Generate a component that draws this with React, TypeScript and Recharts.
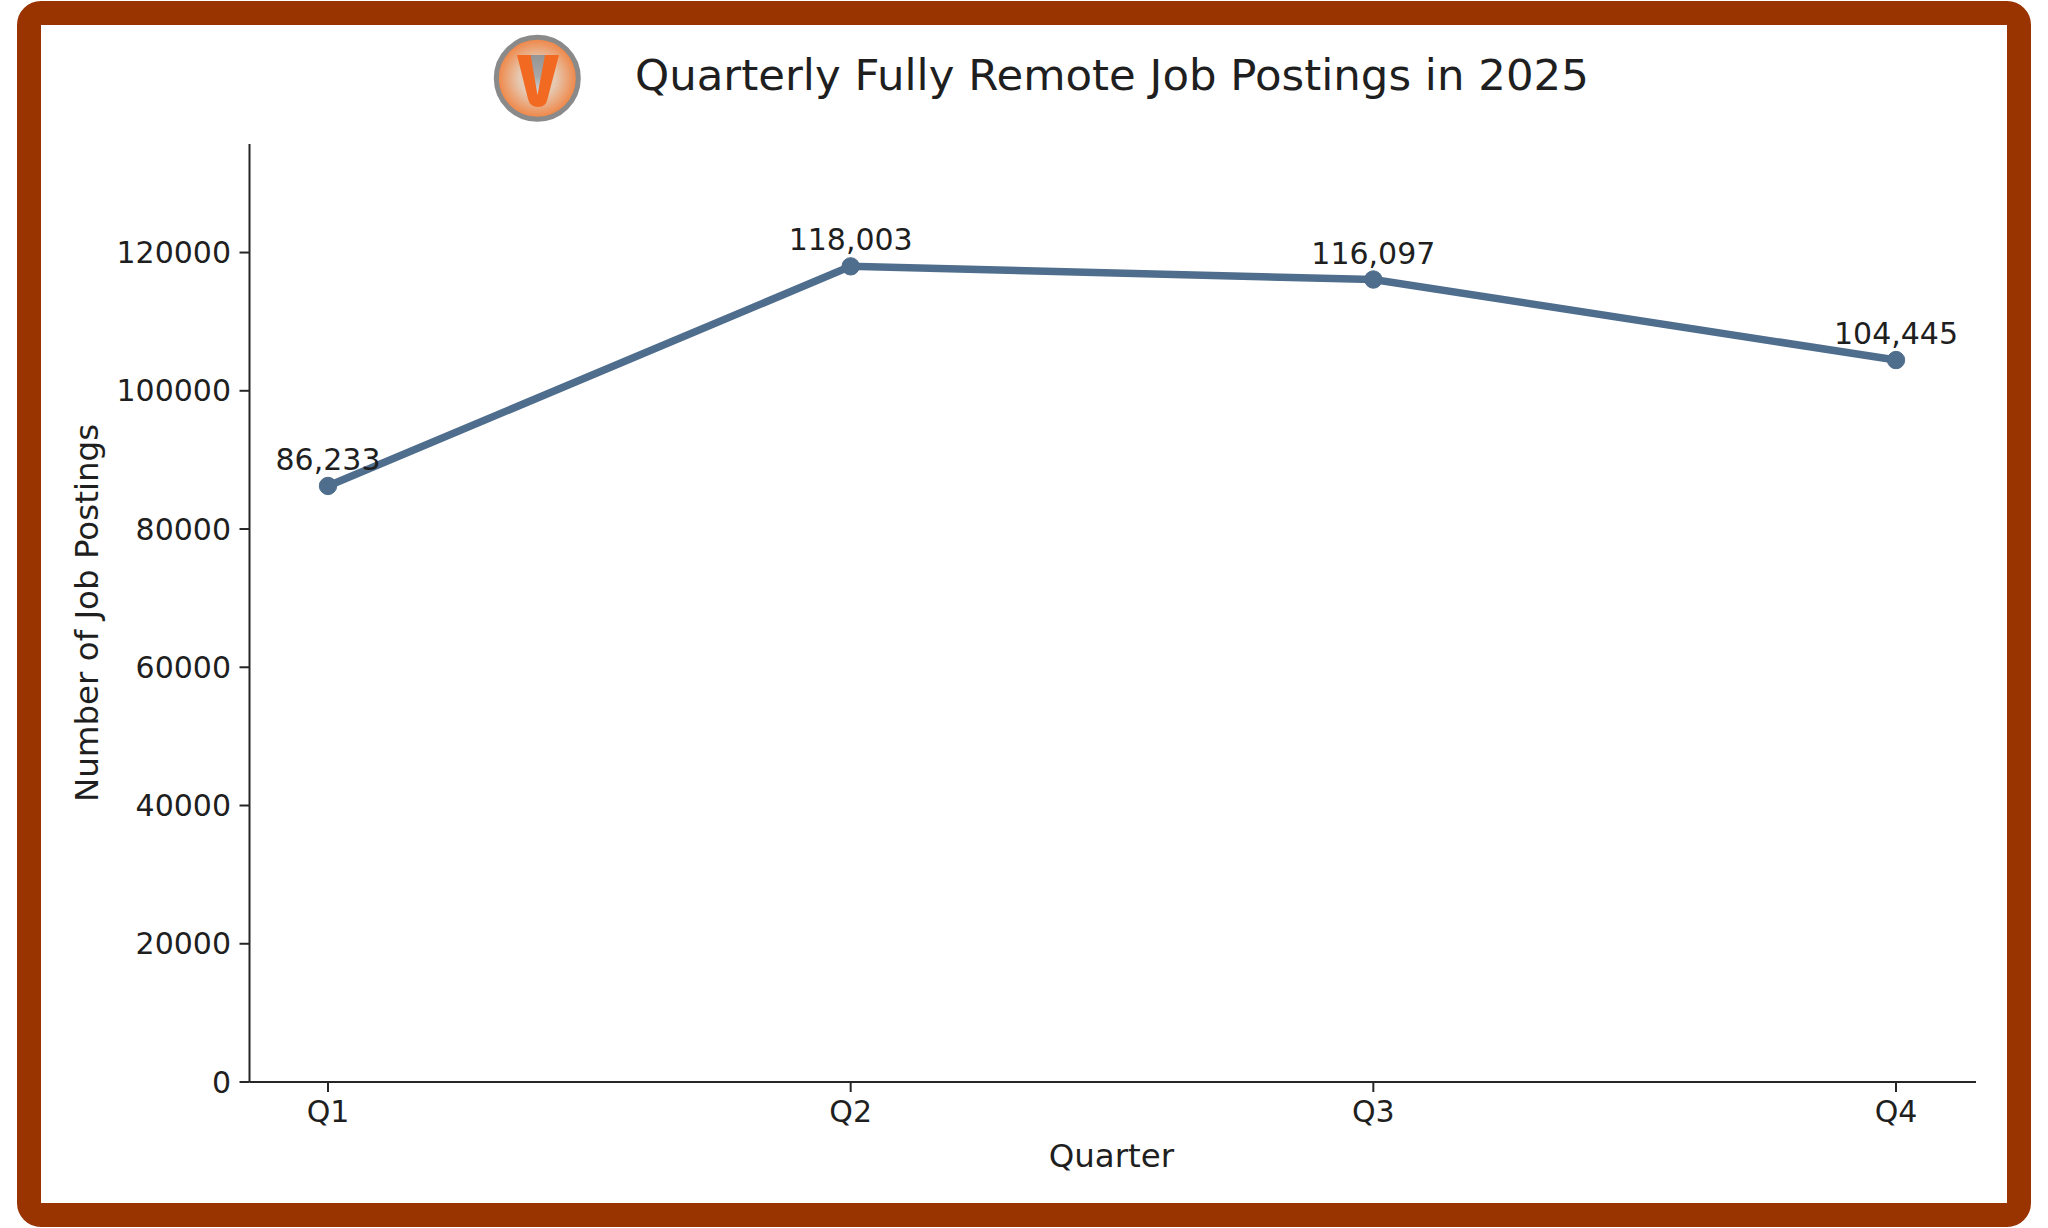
import React from "react";
import { LineChart, Line, XAxis, YAxis, LabelList, Label } from "recharts";

const quarters = ["Q1", "Q2", "Q3", "Q4"];
const postings = [86233, 118003, 116097, 104445];
const yTicks = [0, 20000, 40000, 60000, 80000, 100000, 120000];
const yMax = 135703;
const chartTitle = "Quarterly Fully Remote Job Postings in 2025";

const rows = quarters.map((quarter, i) => ({ quarter, postings: postings[i] }));
const FONT = "'DejaVu Sans', sans-serif";
const INK = "#1f1f1f";
const AXIS = "#262626";
const LINE = "#4f6d8c";

function Logo() {
  return (
    <svg width={90} height={90} viewBox="0 0 90 90" style={{ position: "absolute", left: 492, top: 33 }}>
      <defs>
        <radialGradient id="logoFill" cx="50%" cy="50%" r="50%">
          <stop offset="0%" stopColor="#dcdcdc" />
          <stop offset="45%" stopColor="#e6c8b0" />
          <stop offset="100%" stopColor="#f0813f" />
        </radialGradient>
        <linearGradient id="logoNotch" x1="0" y1="0" x2="0" y2="1">
          <stop offset="0%" stopColor="#949494" />
          <stop offset="55%" stopColor="#a8a8a8" />
          <stop offset="100%" stopColor="#e0e0e0" />
        </linearGradient>
      </defs>
      <circle cx={45.3} cy={45.3} r={41} fill="url(#logoFill)" stroke="#8a8a8a" strokeWidth={5} />
      <path d="M25 22 L67 22 L55.5 66 Q54 74 46 74 Q38 74 36 66 Z" fill="#f26a21" />
      <path d="M38.7 22 L53 22 L45.5 62 Z" fill="url(#logoNotch)" />
    </svg>
  );
}

export default function App() {
  return (
    <div style={{ position: "absolute", left: 0, top: 0, width: 2048, height: 1228, background: "#fff", overflow: "hidden" }}>
      <div
        style={{
          position: "absolute",
          left: 17,
          top: 1,
          width: 2014,
          height: 1226,
          boxSizing: "border-box",
          border: "24px solid #993300",
          borderRadius: 24,
          background: "#fff",
        }}
      />
      <div style={{ position: "absolute", left: 0, top: 0 }}>
        <LineChart width={2048} height={1228} data={rows} margin={{ top: 144, right: 72, bottom: 0, left: 0 }}>
          <XAxis
            dataKey="quarter"
            scale="point"
            padding={{ left: 78.5, right: 80 }}
            height={146}
            stroke={AXIS}
            strokeWidth={2}
            tickSize={10}
            tickMargin={8.5}
            tick={{ fill: INK, fontSize: 30, fontFamily: FONT }}
            tickLine={{ stroke: AXIS, strokeWidth: 2 }}
          >
            <Label value="Quarter" position="insideTop" offset={61.5} dx={-1.3} fill={INK} fontSize={32.5} fontFamily={FONT} />
          </XAxis>
          <YAxis
            domain={[0, yMax]}
            ticks={yTicks}
            width={249.5}
            stroke={AXIS}
            strokeWidth={2}
            tickSize={10}
            tickMargin={8.5}
            tick={{ fill: INK, fontSize: 30, fontFamily: FONT }}
            tickLine={{ stroke: AXIS, strokeWidth: 2 }}
          >
            <Label value="Number of Job Postings" angle={-90} position="insideLeft" offset={86} fill={INK} fontSize={32.5} fontFamily={FONT} style={{ textAnchor: "middle" }} />
          </YAxis>
          <Line
            type="linear"
            dataKey="postings"
            stroke={LINE}
            strokeWidth={7.5}
            dot={{ r: 8.7, fill: LINE, stroke: LINE, strokeWidth: 1 }}
            isAnimationActive={false}
          >
            <LabelList
              dataKey="postings"
              position="top"
              offset={16}
              fill={INK}
              fontSize={30}
              fontFamily={FONT}
              formatter={(v: number) => v.toLocaleString("en-US")}
            />
          </Line>
        </LineChart>
      </div>
      <Logo />
      <div
        style={{
          position: "absolute",
          left: 635,
          top: 47,
          fontFamily: FONT,
          fontSize: 43.45,
          lineHeight: "56px",
          color: INK,
          whiteSpace: "nowrap",
        }}
      >
        {chartTitle}
      </div>
    </div>
  );
}
